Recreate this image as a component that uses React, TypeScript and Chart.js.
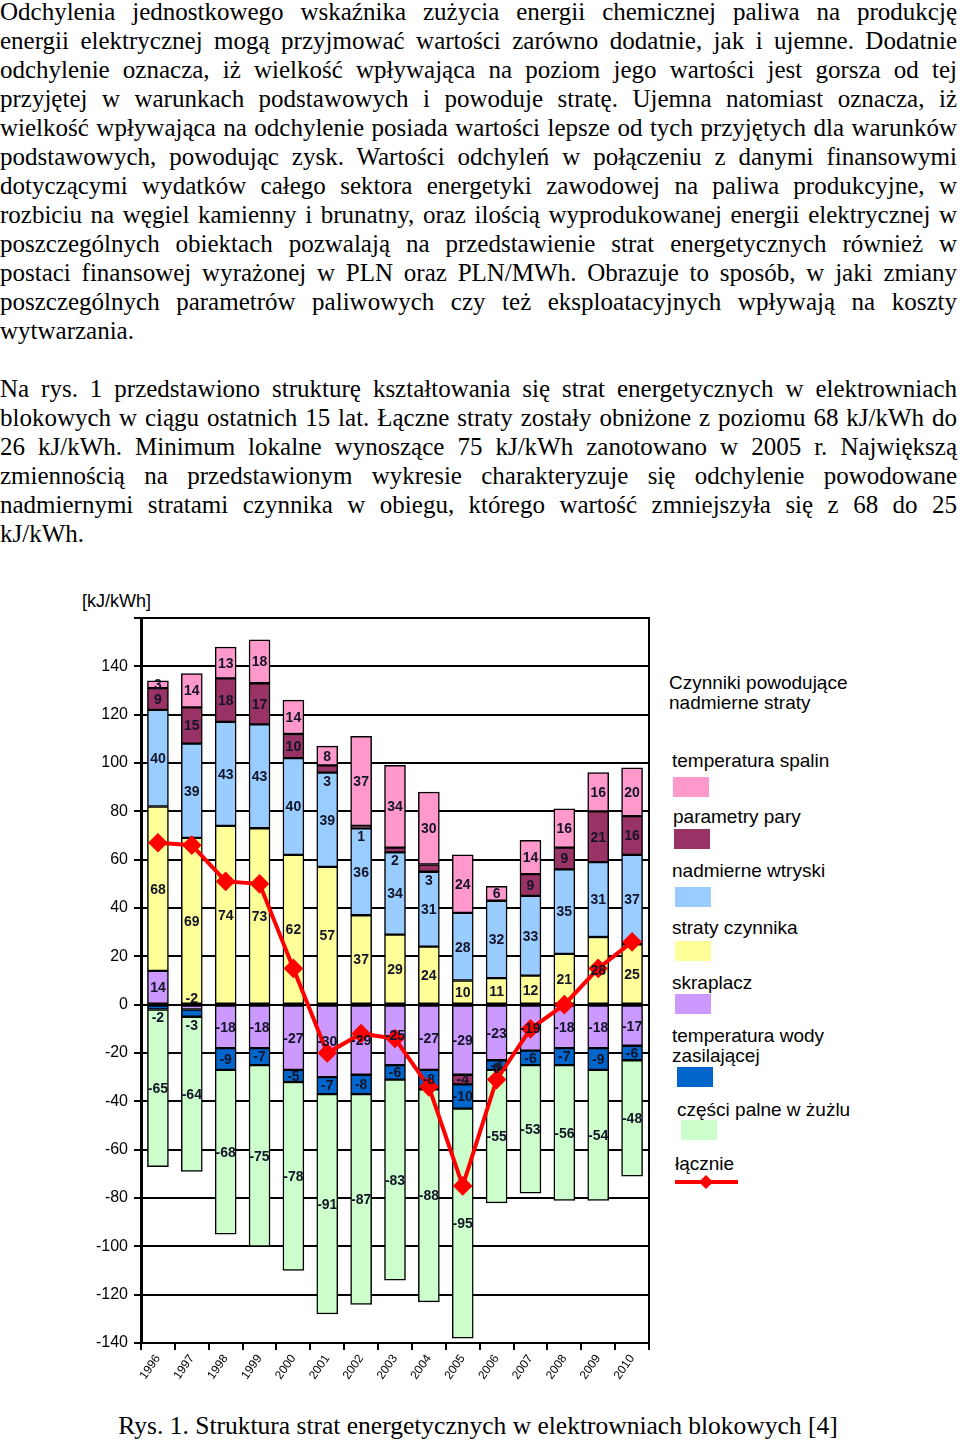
import React, { useEffect, useRef } from 'react';
import { Chart, registerables } from 'chart.js';

Chart.register(...registerables);

const years = ['1996', '1997', '1998', '1999', '2000', '2001', '2002', '2003', '2004', '2005', '2006', '2007', '2008', '2009', '2010'];
const temperaturaSpalin = [3, 14, 13, 18, 14, 8, 37, 34, 30, 24, 6, 14, 16, 16, 20];
const parametryPary = [9, 15, 18, 17, 10, 3, 1, 2, 3, -4, 0, 9, 9, 21, 16];
const nadmierneWtryski = [40, 39, 43, 43, 40, 39, 36, 34, 31, 28, 32, 33, 35, 31, 37];
const stratyCzynnika = [68, 69, 74, 73, 62, 57, 37, 29, 24, 10, 11, 12, 21, 28, 25];
const skraplacz = [14, -2, -18, -18, -27, -30, -29, -25, -27, -29, -23, -19, -18, -18, -17];
const temperaturaWody = [-2, -3, -9, -7, -5, -7, -8, -6, -8, -10, -4, -6, -7, -9, -6];
const czesciPalne = [-65, -64, -68, -75, -78, -91, -87, -83, -88, -95, -55, -53, -56, -54, -48];
const lacznie = [67, 66, 51, 50, 15, -20, -12, -14, -34, -75, -31, -10, 0, 15, 26];
const yTicks = [-140, -120, -100, -80, -60, -40, -20, 0, 20, 40, 60, 80, 100, 120, 140, 160];

const COLORS = {
  spalin: '#FF99CC',
  pary: '#993366',
  wtryski: '#99CCFF',
  straty: '#FFFF99',
  skraplacz: '#CC99FF',
  wody: '#0066CC',
  palne: '#CCFFCC',
  lacznie: '#FF0000',
};

const paragraph1 = [
  'Odchylenia jednostkowego wskaźnika zużycia energii chemicznej paliwa na produkcję',
  'energii elektrycznej mogą przyjmować wartości zarówno dodatnie, jak i ujemne. Dodatnie',
  'odchylenie oznacza, iż wielkość wpływająca na poziom jego wartości jest gorsza od tej',
  'przyjętej w warunkach podstawowych i powoduje stratę. Ujemna natomiast oznacza, iż',
  'wielkość wpływająca na odchylenie posiada wartości lepsze od tych przyjętych dla warunków',
  'podstawowych, powodując zysk. Wartości odchyleń w połączeniu z danymi finansowymi',
  'dotyczącymi wydatków całego sektora energetyki zawodowej na paliwa produkcyjne, w',
  'rozbiciu na węgiel kamienny i brunatny, oraz ilością wyprodukowanej energii elektrycznej w',
  'poszczególnych obiektach pozwalają na przedstawienie strat energetycznych również w',
  'postaci finansowej wyrażonej w PLN oraz PLN/MWh. Obrazuje to sposób, w jaki zmiany',
  'poszczególnych parametrów paliwowych czy też eksploatacyjnych wpływają na koszty',
  'wytwarzania.',
];
const paragraph2 = [
  'Na rys. 1 przedstawiono strukturę kształtowania się strat energetycznych w elektrowniach',
  'blokowych w ciągu ostatnich 15 lat. Łączne straty zostały obniżone z poziomu 68 kJ/kWh do',
  '26 kJ/kWh. Minimum lokalne wynoszące 75 kJ/kWh zanotowano w 2005 r. Największą',
  'zmiennością na przedstawionym wykresie charakteryzuje się odchylenie powodowane',
  'nadmiernymi stratami czynnika w obiegu, którego wartość zmniejszyła się z 68 do 25',
  'kJ/kWh.',
];

const SERIF = '"Liberation Serif", "Times New Roman", serif';
const SANS = '"Liberation Sans", Arial, sans-serif';

const labelPlugin = {
  id: 'segLabels',
  afterDatasetsDraw(chart: any) {
    const ctx = chart.ctx;
    ctx.save();
    ctx.font = `bold 14px ${SANS}`;
    ctx.fillStyle = '#141428';
    ctx.textAlign = 'center';
    ctx.textBaseline = 'middle';
    chart.data.datasets.forEach((ds: any, di: number) => {
      if (ds.type === 'line') return;
      const meta = chart.getDatasetMeta(di);
      meta.data.forEach((el: any, i: number) => {
        const v = ds.data[i];
        if (v === null || v === undefined) return;
        const p = el.getProps(['x', 'y', 'base'], true);
        const top = Math.min(p.y, p.base);
        const bottom = Math.max(p.y, p.base);
        let y = (top + bottom) / 2;
        if (Math.abs(v) <= 3 && ds.key !== 'spalin') {
          if (ds.key === 'skraplacz' && v < 0) y = top - 8;
          else y = bottom + 8;
        }
        ctx.fillText(String(v), p.x, y + 1);
      });
    });
    ctx.restore();
  },
};

const framePlugin = {
  id: 'frame',
  beforeDatasetsDraw(chart: any) {
    const { ctx, chartArea } = chart;
    ctx.save();
    ctx.strokeStyle = '#000';
    ctx.lineWidth = 2;
    ctx.strokeRect(chartArea.left, chartArea.top, chartArea.right - chartArea.left, chartArea.bottom - chartArea.top);
    ctx.restore();
  },
};

function ChartCanvas() {
  const ref = useRef<HTMLCanvasElement | null>(null);
  useEffect(() => {
    if (!ref.current) return;
    const barDs = (label: string, key: string, data: number[], color: string) => ({
      type: 'bar' as const,
      label,
      key,
      data,
      backgroundColor: color,
      borderColor: '#000',
      borderWidth: 1.5,
      borderSkipped: false,
      barThickness: 21,
      order: 1,
    });
    const chart = new Chart(ref.current, {
      type: 'bar',
      data: {
        labels: years,
        datasets: [
          barDs('skraplacz', 'skraplacz', skraplacz, COLORS.skraplacz),
          barDs('straty czynnika', 'straty', stratyCzynnika, COLORS.straty),
          barDs('nadmierne wtryski', 'wtryski', nadmierneWtryski, COLORS.wtryski),
          barDs('parametry pary', 'pary', parametryPary, COLORS.pary),
          barDs('temperatura wody zasilającej', 'wody', temperaturaWody, COLORS.wody),
          barDs('temperatura spalin', 'spalin', temperaturaSpalin, COLORS.spalin),
          barDs('części palne w żużlu', 'palne', czesciPalne, COLORS.palne),
          {
            type: 'line' as const,
            label: 'łącznie',
            data: lacznie,
            borderColor: COLORS.lacznie,
            backgroundColor: COLORS.lacznie,
            borderWidth: 4,
            pointStyle: 'rectRot',
            pointRadius: 7,
            pointBackgroundColor: COLORS.lacznie,
            pointBorderColor: COLORS.lacznie,
            tension: 0,
            order: 0,
          } as any,
        ],
      },
      options: {
        animation: false,
        responsive: false,
        devicePixelRatio: 1,
        layout: { padding: { top: 54, right: 9, left: 0, bottom: 0 } },
        plugins: { legend: { display: false }, tooltip: { enabled: false } },
        scales: {
          x: {
            stacked: true,
            offset: true,
            grid: { offset: true, drawOnChartArea: false, color: '#000', lineWidth: 2, tickLength: 7 },
            border: { color: '#000', width: 2 },
            ticks: { minRotation: 55, maxRotation: 55, color: '#000', font: { size: 12, family: SANS }, padding: 2 },
            afterFit: (s: any) => { s.height = 61; },
          },
          y: {
            stacked: true,
            min: -140,
            max: 160,
            afterBuildTicks: (s: any) => { s.ticks = yTicks.map((v) => ({ value: v })); },
            grid: { color: '#000', lineWidth: 2, tickLength: 7 },
            border: { display: true, color: '#000', width: 3 },
            ticks: {
              color: '#000',
              font: { size: 16, family: SANS },
              padding: 6,
              callback: (v: any) => (v === 160 ? '' : String(v)),
            },
            afterFit: (s: any) => { s.width = 141; },
          },
        },
      },
      plugins: [framePlugin, labelPlugin],
    });
    return () => chart.destroy();
  }, []);
  return <canvas ref={ref} width={660} height={840} style={{ position: 'absolute', left: 0, top: 564, width: 660, height: 840 }} />;
}

const legendItems = [
  { text: 'temperatura spalin', color: COLORS.spalin, textTop: 751, textLeft: 672, sw: [673, 777] },
  { text: 'parametry pary', color: COLORS.pary, textTop: 807, textLeft: 673, sw: [674, 829] },
  { text: 'nadmierne wtryski', color: COLORS.wtryski, textTop: 861, textLeft: 672, sw: [675, 887] },
  { text: 'straty czynnika', color: COLORS.straty, textTop: 918, textLeft: 672, sw: [675, 941] },
  { text: 'skraplacz', color: COLORS.skraplacz, textTop: 973, textLeft: 672, sw: [675, 994] },
  { text: 'temperatura wody\nzasilającej', color: COLORS.wody, textTop: 1026, textLeft: 672, sw: [677, 1067] },
  { text: 'części palne w żużlu', color: COLORS.palne, textTop: 1100, textLeft: 677, sw: [681, 1120] },
];

export default function App() {
  useEffect(() => {
    document.body.style.margin = '0';
  }, []);
  const lineStyle = (last: boolean): React.CSSProperties => ({
    height: 29,
    textAlign: 'justify',
    textAlignLast: last ? 'left' : 'justify',
    whiteSpace: 'normal',
  } as any);
  return (
    <div style={{ position: 'relative', width: 960, height: 1442, overflow: 'hidden', background: '#fff', color: '#000' }}>
      <div style={{ position: 'absolute', left: 0, top: -3, width: 957, fontFamily: SERIF, fontSize: 25, lineHeight: '29px' }}>
        {paragraph1.map((l, i) => (
          <div key={'a' + i} style={lineStyle(i === paragraph1.length - 1)}>{l}</div>
        ))}
        <div style={{ height: 29 }} />
        {paragraph2.map((l, i) => (
          <div key={'b' + i} style={lineStyle(i === paragraph2.length - 1)}>{l}</div>
        ))}
      </div>

      <div style={{ position: 'absolute', left: 82, top: 591, fontFamily: SANS, fontSize: 18, lineHeight: '20px' }}>[kJ/kWh]</div>

      <ChartCanvas />

      <div style={{ position: 'absolute', left: 669, top: 673, fontFamily: SANS, fontSize: 19, lineHeight: '20px', whiteSpace: 'pre' }}>
        {'Czynniki powodujące\nnadmierne straty'}
      </div>
      {legendItems.map((it) => (
        <React.Fragment key={it.text}>
          <div style={{ position: 'absolute', left: it.textLeft, top: it.textTop, fontFamily: SANS, fontSize: 19, lineHeight: '20px', whiteSpace: 'pre' }}>{it.text}</div>
          <div style={{ position: 'absolute', left: it.sw[0], top: it.sw[1], width: 36, height: 20, background: it.color }} />
        </React.Fragment>
      ))}
      <div style={{ position: 'absolute', left: 675, top: 1154, fontFamily: SANS, fontSize: 19, lineHeight: '20px' }}>łącznie</div>
      <div style={{ position: 'absolute', left: 675, top: 1180, width: 63, height: 4, background: COLORS.lacznie }} />
      <div style={{ position: 'absolute', left: 701, top: 1177, width: 10, height: 10, background: COLORS.lacznie, transform: 'rotate(45deg)' }} />

      <div style={{ position: 'absolute', left: 0, width: 956, top: 1411, textAlign: 'center', fontFamily: SERIF, fontSize: 25.5, lineHeight: '29px' }}>
        Rys. 1. Struktura strat energetycznych w elektrowniach blokowych [4]
      </div>
    </div>
  );
}
